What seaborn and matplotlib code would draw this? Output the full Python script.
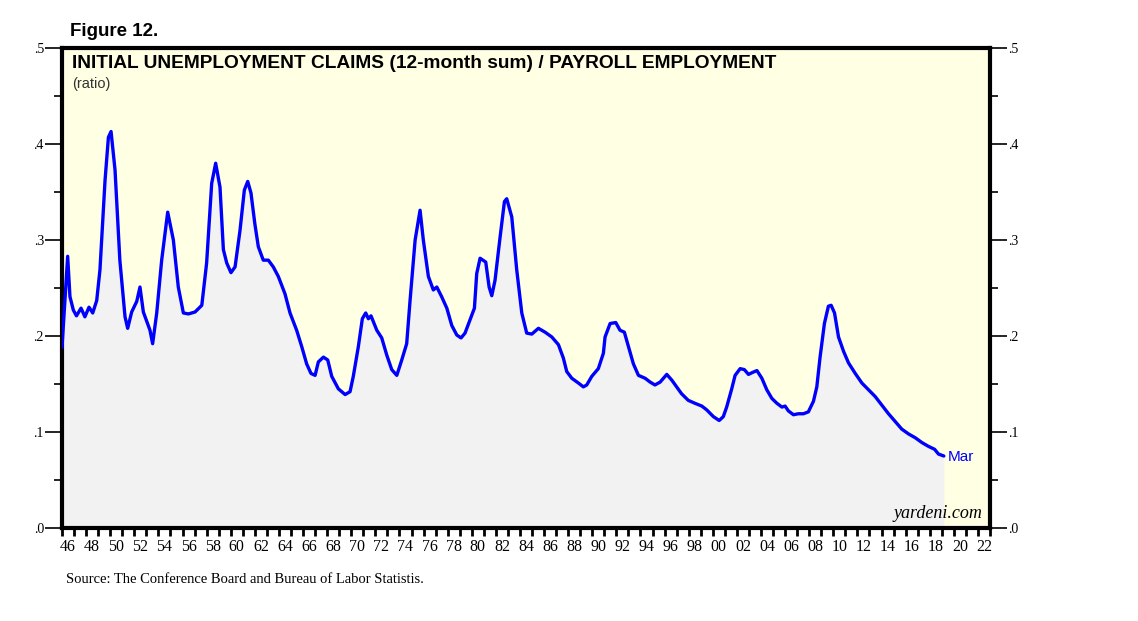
import numpy as np
import pandas as pd
import matplotlib
matplotlib.use('Agg')
import matplotlib.pyplot as plt
import seaborn as sb

# ratio (year as decimal, value)
years = [1946.0, 1946.47, 1946.66, 1946.94, 1947.2, 1947.58, 1947.9, 1948.24, 1948.55, 1948.88,
         1949.15, 1949.57, 1949.85, 1950.07, 1950.4, 1950.8, 1951.23, 1951.45, 1951.78, 1952.2,
         1952.47, 1952.75, 1953.3, 1953.52, 1953.86, 1954.27, 1954.77, 1955.24, 1955.65, 1956.07,
         1956.49, 1957.04, 1957.6, 1958.0, 1958.42, 1958.75, 1959.11, 1959.39, 1959.67, 1960.02,
         1960.36, 1960.77, 1961.13, 1961.41, 1961.68, 1962.0, 1962.29, 1962.7, 1963.12, 1963.53,
         1963.95, 1964.5, 1964.92, 1965.47, 1965.89, 1966.3, 1966.66, 1967.0, 1967.27, 1967.69,
         1968.05, 1968.38, 1968.93, 1969.49, 1969.9, 1970.17, 1970.59, 1970.92, 1971.2, 1971.42,
         1971.64, 1972.12, 1972.53, 1972.95, 1973.36, 1973.78, 1974.19, 1974.6, 1974.88, 1975.3,
         1975.71, 1975.98, 1976.4, 1976.81, 1977.1, 1977.5, 1977.93, 1978.34, 1978.76, 1979.11,
         1979.44, 1979.86, 1980.22, 1980.41, 1980.69, 1981.16, 1981.44, 1981.66, 1981.93, 1982.35,
         1982.71, 1982.9, 1983.32, 1983.73, 1984.15, 1984.56, 1984.98, 1985.53, 1986.08, 1986.64,
         1987.19, 1987.6, 1987.88, 1988.3, 1988.85, 1989.26, 1989.54, 1989.96, 1990.5, 1990.92,
         1991.06, 1991.48, 1991.95, 1992.3, 1992.66, 1993.0, 1993.41, 1993.83, 1994.38, 1994.8,
         1995.2, 1995.63, 1996.18, 1996.6, 1997.0, 1997.4, 1997.96, 1998.5, 1999.09, 1999.5,
         2000.05, 2000.53, 2000.87, 2001.15, 2001.57, 2001.85, 2002.27, 2002.62, 2002.96, 2003.29,
         2003.66, 2004.07, 2004.48, 2004.9, 2005.31, 2005.73, 2006.0, 2006.27, 2006.69, 2007.1,
         2007.52, 2007.93, 2008.35, 2008.63, 2008.9, 2009.26, 2009.59, 2009.82, 2010.1, 2010.43,
         2010.85, 2011.26, 2011.82, 2012.37, 2012.92, 2013.47, 2014.03, 2014.58, 2015.13, 2015.68,
         2016.24, 2016.8, 2017.35, 2017.9, 2018.4, 2018.73, 2019.17]
ratio = [0.188, 0.283, 0.241, 0.227, 0.221, 0.229, 0.220, 0.230, 0.224, 0.237,
         0.269, 0.362, 0.407, 0.413, 0.373, 0.279, 0.220, 0.208, 0.225, 0.236,
         0.251, 0.225, 0.206, 0.192, 0.224, 0.279, 0.329, 0.300, 0.251, 0.224,
         0.223, 0.225, 0.232, 0.276, 0.359, 0.380, 0.355, 0.290, 0.276, 0.266,
         0.272, 0.310, 0.352, 0.361, 0.349, 0.317, 0.293, 0.279, 0.279, 0.272,
         0.262, 0.244, 0.224, 0.206, 0.189, 0.171, 0.161, 0.159, 0.173, 0.178,
         0.175, 0.158, 0.145, 0.139, 0.142, 0.158, 0.189, 0.218, 0.224, 0.218,
         0.221, 0.206, 0.198, 0.180, 0.165, 0.159, 0.175, 0.192, 0.237, 0.300,
         0.331, 0.300, 0.262, 0.248, 0.251, 0.241, 0.229, 0.211, 0.201, 0.198,
         0.203, 0.217, 0.229, 0.265, 0.281, 0.277, 0.251, 0.242, 0.258, 0.303,
         0.340, 0.343, 0.324, 0.269, 0.224, 0.203, 0.202, 0.208, 0.204, 0.199,
         0.191, 0.177, 0.163, 0.156, 0.151, 0.147, 0.149, 0.158, 0.166, 0.182,
         0.199, 0.213, 0.214, 0.206, 0.204, 0.189, 0.171, 0.159, 0.156, 0.152,
         0.149, 0.152, 0.160, 0.154, 0.147, 0.140, 0.133, 0.130, 0.127, 0.123,
         0.116, 0.112, 0.116, 0.126, 0.145, 0.159, 0.166, 0.165, 0.160, 0.162,
         0.164, 0.156, 0.144, 0.135, 0.130, 0.126, 0.127, 0.122, 0.118, 0.119,
         0.119, 0.121, 0.132, 0.147, 0.178, 0.213, 0.231, 0.232, 0.224, 0.199,
         0.184, 0.172, 0.161, 0.151, 0.144, 0.137, 0.128, 0.119, 0.111, 0.103,
         0.098, 0.094, 0.089, 0.085, 0.082, 0.077, 0.075]

year_labels = ['46', '48', '50', '52', '54', '56', '58', '60', '62', '64', '66', '68', '70',
               '72', '74', '76', '78', '80', '82', '84', '86', '88', '90', '92', '94', '96',
               '98', '00', '02', '04', '06', '08', '10', '12', '14', '16', '18', '20', '22']
y_labels = ['.0', '.1', '.2', '.3', '.4', '.5']

df = pd.DataFrame({'year': years, 'ratio': ratio})

sb.set_style('white')
plt.rcParams['font.family'] = ['Liberation Sans', 'DejaVu Sans']
plt.rcParams['text.color'] = 'black'
plt.rcParams['xtick.color'] = 'black'
plt.rcParams['ytick.color'] = 'black'

fig = plt.figure(figsize=(11.38, 6.21), dpi=100)
ax = fig.add_axes([62 / 1138, 1 - 528 / 621, 928 / 1138, 480 / 621])
ax.set_facecolor('#ffffe3')

ax.fill_between(df.year, df.ratio, 0, color='#f2f2f2', lw=0, zorder=1)
sb.lineplot(data=df, x='year', y='ratio', color='#0000ff', lw=2.4, ax=ax, zorder=3)
ax.lines[-1].set_solid_joinstyle('round')
ax.lines[-1].set_solid_capstyle('round')

ax.set_xlim(1946, 2023)
ax.set_ylim(0, 0.5)
ax.set_xlabel('')
ax.set_ylabel('')

for s in ax.spines.values():
    s.set_linewidth(3)
    s.set_color('black')

serif = 'Liberation Serif'
# x axis: ticks every year, labels centred between ticks
ax.set_xticks(np.arange(1946, 2024, 1))
ax.set_xticklabels([])
ax.set_xticks([1946.5 + 2 * i for i in range(len(year_labels))], minor=True)
ax.set_xticklabels(year_labels, minor=True, fontfamily=serif, fontsize=11.5)
ax.tick_params(axis='x', which='major', direction='out', length=6, width=2, bottom=True, top=False)
ax.tick_params(axis='x', which='minor', length=0, pad=8)

# y axis both sides
ax.set_yticks([0.1 * i for i in range(6)])
ax.set_yticklabels(y_labels, fontfamily=serif, fontsize=10)
ax.set_yticks(np.arange(0.05, 0.5, 0.1), minor=True)
ax.tick_params(axis='y', which='major', direction='out', length=12, width=1.2,
               left=True, right=True, labelleft=True, labelright=True, pad=1)
ax.tick_params(axis='y', which='minor', direction='out', length=6, width=1.2,
               left=True, right=True)

ax.text(0.011, 0.985, 'INITIAL UNEMPLOYMENT CLAIMS (12-month sum) / PAYROLL EMPLOYMENT',
        transform=ax.transAxes, fontsize=13.8, fontweight='bold', va='top', ha='left')
ax.text(0.011, 0.94, '(ratio)', transform=ax.transAxes, fontsize=10.5, color='#333333',
        va='top', ha='left')
ax.text(years[-1] + 0.3, ratio[-1] - 0.001, 'Mar', color='#0000ff', fontsize=11, va='center')
ax.text(0.992, 0.012, 'yardeni.com', transform=ax.transAxes, fontfamily=serif,
        style='italic', fontsize=13, ha='right', va='bottom')

fig.text(70 / 1138, 1 - 36 / 621, 'Figure 12.', fontsize=13.5, fontweight='bold')
fig.text(66 / 1138, 1 - 583 / 621, 'Source: The Conference Board and Bureau of Labor Statistis.',
         fontfamily=serif, fontsize=10.5)

fig.savefig('out.png', dpi=100)
